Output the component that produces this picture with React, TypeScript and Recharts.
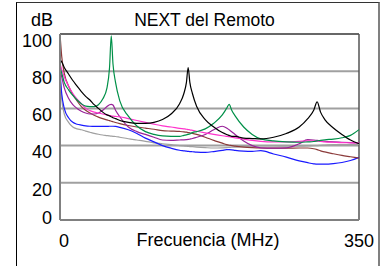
import { CartesianGrid, Line, LineChart, ReferenceLine, XAxis, YAxis } from "recharts";

const freq = [0, 2, 5, 10, 15, 20, 25, 30, 35, 40, 45, 50, 55, 58, 60, 62, 65, 70, 80, 90, 100, 110, 120, 130, 140, 145, 148, 150, 152, 155, 160, 170, 180, 190, 195, 198, 201, 205, 215, 225, 235, 250, 265, 280, 290, 297, 301, 305, 310, 320, 330, 340, 350];

const blackVals = [86, 85, 82, 78.5, 75, 72, 69, 66.5, 64.5, 62, 60, 58, 56.5, 56, 55.5, 55, 54.5, 53.5, 52.5, 52, 52, 52.5, 54, 57, 62.5, 68, 74, 82, 74, 68, 61, 54, 50, 47, 46, 45.5, 45, 45, 44, 43.8, 43.6, 44.5, 46.5, 50, 54.5, 59, 63.5, 58, 54, 49.5, 46, 43, 41];
const greenVals = [82, 79, 74, 70, 67, 64.5, 62.5, 61.2, 61, 61, 62, 65, 71, 82, 99, 84, 74, 64, 55.8, 50.5, 47.5, 46, 45.2, 45, 45, 45.5, 45.8, 46, 46.3, 47, 47.5, 49, 52, 56.5, 60, 62.2, 59, 56, 50, 46, 43.6, 42.5, 42, 41.8, 42, 42.2, 42.5, 42.8, 43.1, 43.5, 44.2, 45.5, 48.6];
const pinkVals = [84, 81, 77, 72, 68, 65, 62.5, 60, 58.8, 58, 57.5, 57, 56.5, 56.2, 56, 55.8, 55.7, 55.5, 54.5, 53.5, 52.5, 51.5, 50.6, 50, 49.3, 49, 48.8, 48.6, 48.5, 48.2, 47.7, 46.8, 46, 45.3, 45, 44.8, 44.5, 44.2, 43.5, 42.8, 42.3, 42, 42, 42.3, 42.5, 42.5, 42.4, 42.3, 42, 41.8, 41.6, 41.5, 41.4];
const purpleVals = [81, 77, 71, 65.5, 62, 60, 58.5, 57.5, 57, 57, 57.5, 59, 61, 62, 62.2, 61.8, 59, 55.5, 50, 47.5, 46, 44.5, 43, 42.8, 43, 43.1, 43.2, 43.3, 43.5, 43.8, 44.5, 46, 48.5, 50.4, 49.5, 48.5, 47.5, 46, 42.5, 40, 38.8, 38.6, 38.8, 41, 43.2, 43, 42.8, 42.5, 42.3, 42, 41.8, 41.6, 41.4];
const brownVals = [100, 88, 79, 72, 67.5, 64, 61, 59, 57.5, 56.3, 55.3, 54.5, 53.8, 53.4, 53.1, 52.8, 52.4, 51.8, 50.8, 50, 49.4, 48.8, 48, 47.8, 47.6, 47.4, 47.2, 47, 46.9, 46.6, 46, 44.5, 42.8, 41.3, 40.5, 40.2, 40, 39.7, 39.2, 38.9, 38.7, 38.6, 38.6, 38.7, 38.7, 38.3, 37.8, 37.2, 36.6, 35.6, 34.7, 34, 33.3];
const blueVals = [80, 68, 60, 55, 52.5, 51.5, 51, 50.6, 50.4, 50.3, 50.3, 50.3, 50.3, 50.4, 50.4, 50.4, 50.3, 49.8, 48.5, 46.5, 44, 42, 40, 38.6, 37.5, 37.2, 37, 36.9, 36.8, 36.7, 36.5, 36.4, 36.8, 37.4, 37.8, 37.8, 37.7, 37.4, 37, 36.9, 37.3, 35.5, 33.8, 31.8, 30.8, 30.2, 30, 30, 30, 30.3, 30.9, 32, 33.7];
const greyVals = [78, 65, 57, 52.5, 50, 49, 48.5, 47.8, 47.2, 46.6, 46.1, 45.7, 45.4, 45.2, 45.1, 45, 44.9, 44.5, 43.7, 43, 42.3, 41.5, 41, 40.5, 40, 39.8, 39.7, 39.6, 39.5, 39.4, 39.2, 38.9, 38.7, 38.8, 38.9, 39, 39.1, 39.2, 39.5, 39.7, 39.8, 39.8, 39.7, 39.7, 39.8, 40, 40, 40.2, 40.3, 40.5, 40.5, 40.6, 40.6];

const yTicks = [0, 20, 40, 60, 80, 100];
const xTicks = [0, 350];

const data = freq.map((f, i) => ({
  f,
  grey: greyVals[i],
  blue: blueVals[i],
  brown: brownVals[i],
  purple: purpleVals[i],
  pink: pinkVals[i],
  green: greenVals[i],
  black: blackVals[i]
}));

const series = [
  { key: "grey", color: "#a0a0a0" },
  { key: "blue", color: "#1a1aff" },
  { key: "brown", color: "#8b3a3a" },
  { key: "purple", color: "#992299" },
  { key: "pink", color: "#ff33cc" },
  { key: "green", color: "#009048" },
  { key: "black", color: "#000000" }
];

const font = "'Liberation Sans', Arial, sans-serif";

function YTick(props: any) {
  const { x, y, payload } = props;
  const dy = payload.value === 0 ? 4 : 12.7;
  return (
    <text x={x} y={y + dy} textAnchor="end" fontSize={18} fontFamily={font} fill="#000">
      {payload.value}
    </text>
  );
}

function XTick(props: any) {
  const { x, payload } = props;
  const first = payload.value === 0;
  return (
    <text
      x={first ? x - 1 : x}
      y={246.5}
      textAnchor={first ? "start" : "middle"}
      fontSize={18}
      fontFamily={font}
      fill="#000"
    >
      {payload.value}
    </text>
  );
}

export default function App() {
  return (
    <div style={{ position: "absolute", left: 0, top: 0, width: 390, height: 266, background: "#fff", fontFamily: font }}>
      <div
        style={{
          position: "absolute",
          left: 16,
          top: 2,
          width: 361,
          height: 270,
          borderLeft: "1px solid #000",
          borderTop: "1px solid #333",
          borderRight: "2px solid #808080"
        }}
      />
      <div style={{ position: "absolute", left: 0, width: 409, top: 11.9, fontSize: 17.5, lineHeight: 1, textAlign: "center", whiteSpace: "nowrap" }}>
        NEXT del Remoto
      </div>
      <div style={{ position: "absolute", right: 337, top: 11.4, fontSize: 18, lineHeight: 1, whiteSpace: "nowrap" }}>
        dB
      </div>
      <div style={{ position: "absolute", left: 0, width: 416, top: 231.4, fontSize: 18, lineHeight: 1, textAlign: "center", whiteSpace: "nowrap" }}>
        Frecuencia (MHz)
      </div>
      <div style={{ position: "absolute", left: 0, top: 0 }}>
        <LineChart width={390} height={266} data={data} margin={{ top: 34, right: 31, bottom: 16, left: 16 }}>
          <CartesianGrid vertical={false} stroke="#a0a0a0" strokeWidth={2} />
          <XAxis
            dataKey="f"
            type="number"
            domain={[0, 350]}
            ticks={xTicks}
            tick={XTick}
            tickLine={false}
            axisLine={{ stroke: "#808080", strokeWidth: 2 }}
            height={30}
          />
          <YAxis
            type="number"
            domain={[0, 100]}
            ticks={yTicks}
            tick={YTick}
            tickLine={false}
            axisLine={{ stroke: "#808080", strokeWidth: 2 }}
            width={44}
          />
          <ReferenceLine y={100} stroke="#555" strokeWidth={1.5} />
          <ReferenceLine x={350} stroke="#555" strokeWidth={1.5} />
          {series.map((s) => (
            <Line
              key={s.key}
              dataKey={s.key}
              type="monotone"
              stroke={s.color}
              strokeWidth={1.2}
              dot={false}
              isAnimationActive={false}
            />
          ))}
        </LineChart>
      </div>
    </div>
  );
}
